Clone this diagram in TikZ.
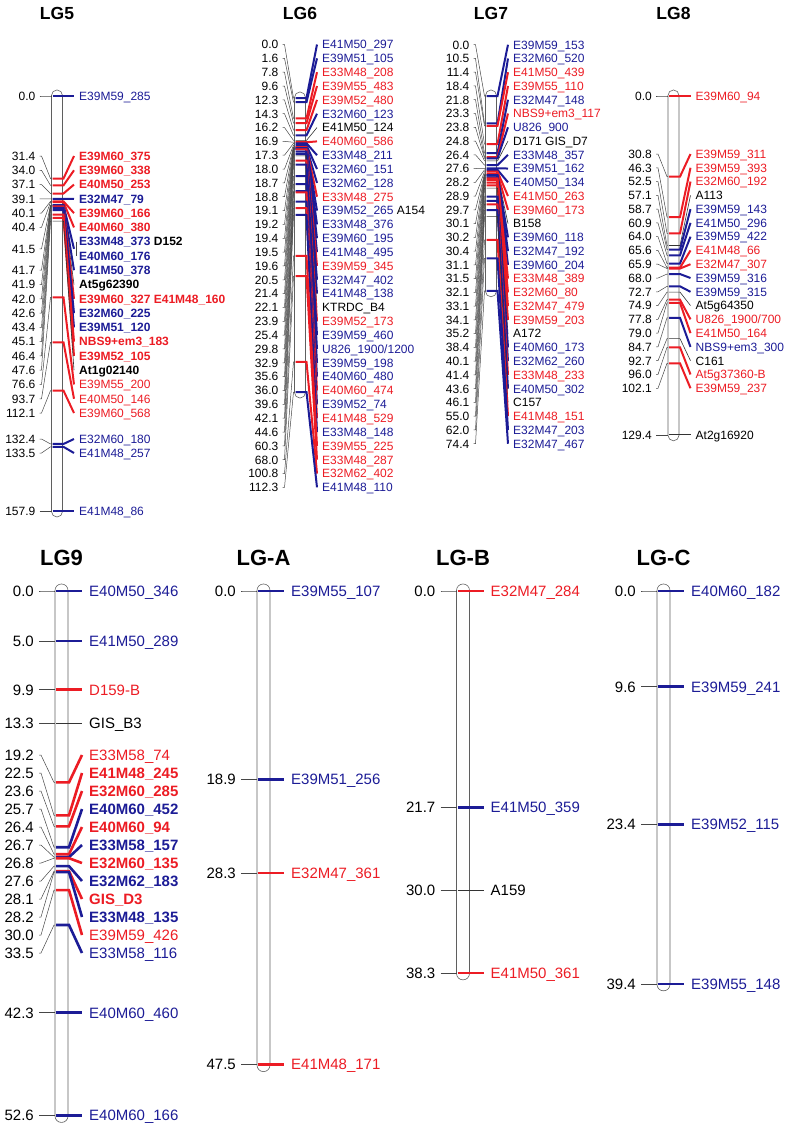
\documentclass[tikz,border=0pt]{standalone}
\usepackage{fontspec}
\setmainfont{Liberation Sans}
\definecolor{mapred}{RGB}{236,28,36}
\definecolor{mapblue}{RGB}{28,28,150}
\definecolor{bargray}{RGB}{95,95,95}
\definecolor{linegray}{RGB}{70,70,70}

\newcounter{mk}
% one marker: position, label y, number y (empty: none), colour key, label text
\newcommand{\mapmarker}[5]{%
  \stepcounter{mk}%
  \pgfmathsetmacro{\ya}{\yO+\cmsc*#1}%
  \node[lbl, txt-#4] (mk-\themk) at (\xR+\lgap, #2) {#5};%
  \draw[tick-#4] (\xL+1, \ya) -- (\xR+1, \ya) -- ([xshift=-\tgap]mk-\themk.west);%
  \ifx\relax#3\relax\else
    \node[num] (nm-\themk) at (\xL-\ngap, #3) {#1};%
    \draw[numline] ([xshift=\nsep]nm-\themk.east) -- ++(2,0) -- (\xL-1, \ya) -- (\xL, \ya);%
  \fi}

\begin{document}
\begin{tikzpicture}[x=1pt, y=-1pt,
  mapbar/.style={draw=bargray, line width=0.6pt, rounded corners=\barr},
  lbl/.style={anchor=west, inner sep=0pt, font=\lblfont, text height=\lblh, text depth=0pt},
  num/.style={anchor=east, inner sep=0pt, font=\numfont, text height=\lblh, text depth=0pt},
  numline/.style={draw=linegray, line width=0.5pt},
  brk/.style={draw=linegray, line width=0.5pt},
  ttl/.style={font=\ttlfont, inner sep=0pt},
  tick-r/.style={draw=mapred, line width=\tkw},
  tick-b/.style={draw=mapblue, line width=\tkw},
  tick-k/.style={draw=black!80, line width=0.6pt},
  txt-r/.style={text=mapred},
  txt-b/.style={text=mapblue},
  txt-k/.style={text=black}
]
\useasboundingbox (0,0) rectangle (795,1128);

% top row
\def\lblfont{\fontsize{12}{14}\selectfont}
\def\numfont{\fontsize{12}{14}\selectfont}
\def\ttlfont{\fontsize{17.5}{20}\selectfont\bfseries}
\def\lblh{8.6pt}\def\tkw{2pt}\def\lgap{16.5}\def\ngap{16}\def\tgap{5pt}\def\nsep{4pt}\def\barr{5.4pt}

% LG5
\def\xL{51.5}\def\xR{62.5}\def\yO{96}\def\cmsc{2.628}
\draw[mapbar] (\xL,\yO-6) rectangle (\xR,\yO+\cmsc*157.9+6);
\node[ttl] (lg5) at ({(\xL+\xR)/2},13) {LG5};
\foreach \ps/\cl/\tx in {0.0/b/E39M59\_285, 157.9/b/E41M48\_86}
  {\pgfmathsetmacro{\yl}{\yO+\cmsc*\ps}\mapmarker{\ps}{\yl}{\yl}{\cl}{\tx}}
\mapmarker{132.4}{439}{439}{b}{E32M60\_180}
\mapmarker{133.5}{453}{453}{b}{E41M48\_257}
\def\yF{156}\def\dy{14.28}
\begin{scope}
  \def\lblfont{\fontsize{12}{14}\selectfont\bfseries}
  \foreach \ps/\cl/\tx [count=\kk from 0] in {31.4/r/E39M60\_375, 34.0/r/E39M60\_338,
      37.1/r/E40M50\_253, 39.1/b/E32M47\_79, 40.1/r/E39M60\_166, 40.4/r/E40M60\_380}
    {\pgfmathsetmacro{\yl}{\yF+\dy*\kk}\mapmarker{\ps}{\yl}{\yl}{\cl}{\tx}}
  \pgfmathsetmacro{\yl}{\yF+\dy*6.5}
  \mapmarker{41.5}{\yl}{\yl}{b}{}
  \node[lbl, txt-b] (d152) at (\xR+\lgap, \yF+\dy*6) {E33M48\_373 \textcolor{black}{D152}};
  \node[lbl, txt-b] (e176) at (\xR+\lgap, \yF+\dy*7) {E40M60\_176};
  \draw[brk] ([xshift=-3pt]d152.west) -- ([xshift=-3pt]e176.west);
  \foreach \ps/\cl/\tx [count=\kk from 8] in {41.7/b/E41M50\_378, 41.9/k/At5g62390,
      42.0/r/{E39M60\_327 E41M48\_160}, 42.6/b/E32M60\_225, 43.4/b/E39M51\_120,
      45.1/r/NBS9+em3\_183, 46.4/r/E39M52\_105, 47.6/k/At1g02140}
    {\pgfmathsetmacro{\yl}{\yF+\dy*\kk}\mapmarker{\ps}{\yl}{\yl}{\cl}{\tx}}
\end{scope}
\foreach \ps/\cl/\tx [count=\kk from 16] in {76.6/r/E39M55\_200, 93.7/r/E40M50\_146, 112.1/r/E39M60\_568}
  {\pgfmathsetmacro{\yl}{\yF+\dy*\kk}\mapmarker{\ps}{\yl}{\yl}{\cl}{\tx}}

% LG6
\def\xL{294.5}\def\xR{305.5}\def\yO{98}\def\cmsc{2.618}
\draw[mapbar] (\xL,\yO-6) rectangle (\xR,\yO+\cmsc*112.3+6);
\node[ttl] (lg6) at ({(\xL+\xR)/2},13) {LG6};
\def\yF{44.5}\def\dy{13.84}
\foreach \ps/\cl/\tx [count=\kk from 0] in {0.0/b/E41M50\_297, 1.6/b/E39M51\_105,
    7.8/r/E33M48\_208, 9.6/r/E39M55\_483, 12.3/r/E39M52\_480, 14.3/b/E32M60\_123,
    16.2/k/E41M50\_124, 16.9/r/E40M60\_586, 17.3/b/E33M48\_211, 18.0/b/E32M60\_151,
    18.7/b/E32M62\_128, 18.8/r/E33M48\_275, 19.1/b/{E39M52\_265 \textcolor{black}{A154}},
    19.2/b/E33M48\_376, 19.4/b/E39M60\_195, 19.5/b/E41M48\_495, 19.6/r/E39M59\_345,
    20.5/b/E32M47\_402, 21.4/b/E41M48\_138, 22.1/k/KTRDC\_B4, 23.9/r/E39M52\_173,
    25.4/b/E39M59\_460, 29.8/b/{U826\_1900/1200}, 32.9/b/E39M59\_198, 35.6/b/E40M60\_480,
    36.0/r/E40M60\_474, 39.6/b/E39M52\_74, 42.1/r/E41M48\_529, 44.6/b/E33M48\_148,
    60.3/r/E39M55\_225, 68.0/r/E33M48\_287, 100.8/r/E32M62\_402, 112.3/b/E41M48\_110}
  {\pgfmathsetmacro{\yl}{\yF+\dy*\kk}\mapmarker{\ps}{\yl}{\yl}{\cl}{\tx}}

% LG7
\def\xL{485.5}\def\xR{496.5}\def\yO{96}\def\cmsc{2.618}
\draw[mapbar] (\xL,\yO-6) rectangle (\xR,\yO+\cmsc*74.4+6);
\node[ttl] (lg7) at ({(\xL+\xR)/2},13) {LG7};
\def\yF{44.7}\def\dy{13.76}
\foreach \ps/\cl/\tx [count=\kk from 0] in {0.0/b/E39M59\_153, 10.5/b/E32M60\_520,
    11.4/r/E41M50\_439, 18.4/r/E39M55\_110, 21.8/b/E32M47\_148, 23.3/r/NBS9+em3\_117,
    23.8/b/U826\_900, 24.8/k/D171 GIS\_D7, 26.4/b/E33M48\_357, 27.6/b/E39M51\_162,
    28.2/b/E40M50\_134, 28.9/r/E41M50\_263, 29.7/r/E39M60\_173, 30.1/k/B158,
    30.2/b/E39M60\_118, 30.4/b/E32M47\_192, 31.1/b/E39M60\_204, 31.5/r/E33M48\_389,
    32.1/r/E32M60\_80, 33.1/r/E32M47\_479, 34.1/r/E39M59\_203, 35.2/k/A172,
    38.4/b/E40M60\_173, 40.1/b/E32M62\_260, 41.4/r/E33M48\_233, 43.6/b/E40M50\_302,
    46.1/k/C157, 55.0/r/E41M48\_151, 62.0/b/E32M47\_203, 74.4/b/E32M47\_467}
  {\pgfmathsetmacro{\yl}{\yF+\dy*\kk}\mapmarker{\ps}{\yl}{\yl}{\cl}{\tx}}

% LG8
\def\xL{668}\def\xR{679}\def\yO{96}\def\cmsc{2.618}
\draw[mapbar] (\xL,\yO-6) rectangle (\xR,\yO+\cmsc*129.4+6);
\node[ttl] (lg8) at ({(\xL+\xR)/2},13) {LG8};
\foreach \ps/\cl/\tx in {0.0/r/E39M60\_94, 129.4/k/At2g16920}
  {\pgfmathsetmacro{\yl}{\yO+\cmsc*\ps}\mapmarker{\ps}{\yl}{\yl}{\cl}{\tx}}
\def\yF{154}\def\dy{13.78}
\foreach \ps/\cl/\tx [count=\kk from 0] in {30.8/r/E39M59\_311, 46.3/r/E39M59\_393,
    52.5/r/E32M60\_192, 57.1/k/A113, 58.7/b/E39M59\_143, 60.9/b/E41M50\_296,
    64.0/b/E39M59\_422, 65.6/r/E41M48\_66, 65.9/r/E32M47\_307, 68.0/b/E39M59\_316,
    72.7/b/E39M59\_315, 74.9/k/At5g64350, 77.8/r/{U826\_1900/700}, 79.0/r/E41M50\_164,
    84.7/b/NBS9+em3\_300, 92.7/k/C161, 96.0/r/At5g37360-B, 102.1/r/E39M59\_237}
  {\pgfmathsetmacro{\yl}{\yF+\dy*\kk}\mapmarker{\ps}{\yl}{\yl}{\cl}{\tx}}

% bottom row
\def\lblfont{\fontsize{15}{18}\selectfont}
\def\numfont{\fontsize{15}{18}\selectfont}
\def\ttlfont{\fontsize{22}{26}\selectfont\bfseries}
\def\lblh{10.7pt}\def\tkw{2.6pt}\def\lgap{21}\def\ngap{21}\def\tgap{7pt}\def\nsep{5pt}\def\barr{6.4pt}
\def\yO{591}\def\cmsc{9.97}

% LG9
\def\xL{55}\def\xR{68}
\draw[mapbar] (\xL,\yO-7) rectangle (\xR,\yO+\cmsc*52.6+7);
\node[ttl] (lg9) at ({(\xL+\xR)/2},558) {LG9};
\foreach \ps/\cl/\tx in {0.0/b/E40M50\_346, 5.0/b/E41M50\_289, 9.9/r/D159-B, 13.3/k/GIS\_B3,
    42.3/b/E40M60\_460, 52.6/b/E40M60\_166}
  {\pgfmathsetmacro{\yl}{\yO+\cmsc*\ps}\mapmarker{\ps}{\yl}{\yl}{\cl}{\tx}}
\def\yF{755}\def\dy{18}
\mapmarker{19.2}{\yF}{\yF}{r}{E33M58\_74}
\begin{scope}
  \def\lblfont{\fontsize{15}{18}\selectfont\bfseries}
  \foreach \ps/\cl/\tx [count=\kk from 1] in {22.5/r/E41M48\_245, 23.6/r/E32M60\_285,
      25.7/b/E40M60\_452, 26.4/r/E40M60\_94, 26.7/b/E33M58\_157, 26.8/r/E32M60\_135,
      27.6/b/E32M62\_183, 28.1/r/GIS\_D3, 28.2/b/E33M48\_135}
    {\pgfmathsetmacro{\yl}{\yF+\dy*\kk}\mapmarker{\ps}{\yl}{\yl}{\cl}{\tx}}
\end{scope}
\foreach \ps/\cl/\tx [count=\kk from 10] in {30.0/r/E39M59\_426, 33.5/b/E33M58\_116}
  {\pgfmathsetmacro{\yl}{\yF+\dy*\kk}\mapmarker{\ps}{\yl}{\yl}{\cl}{\tx}}

% LG-A
\def\xL{257}\def\xR{270}
\draw[mapbar] (\xL,\yO-7) rectangle (\xR,\yO+\cmsc*47.5+7);
\node[ttl] (lga) at ({(\xL+\xR)/2},558) {LG-A};
\foreach \ps/\cl/\tx in {0.0/b/E39M55\_107, 18.9/b/E39M51\_256, 28.3/r/E32M47\_361, 47.5/r/E41M48\_171}
  {\pgfmathsetmacro{\yl}{\yO+\cmsc*\ps}\mapmarker{\ps}{\yl}{\yl}{\cl}{\tx}}

% LG-B
\def\xL{456.5}\def\xR{469.5}
\draw[mapbar] (\xL,\yO-7) rectangle (\xR,\yO+\cmsc*38.3+7);
\node[ttl] (lgb) at ({(\xL+\xR)/2},558) {LG-B};
\foreach \ps/\cl/\tx in {0.0/r/E32M47\_284, 21.7/b/E41M50\_359, 30.0/k/A159, 38.3/r/E41M50\_361}
  {\pgfmathsetmacro{\yl}{\yO+\cmsc*\ps}\mapmarker{\ps}{\yl}{\yl}{\cl}{\tx}}

% LG-C
\def\xL{657}\def\xR{670}
\draw[mapbar] (\xL,\yO-7) rectangle (\xR,\yO+\cmsc*39.4+7);
\node[ttl] (lgc) at ({(\xL+\xR)/2},558) {LG-C};
\foreach \ps/\cl/\tx in {0.0/b/E40M60\_182, 9.6/b/E39M59\_241, 23.4/b/E39M52\_115, 39.4/b/E39M55\_148}
  {\pgfmathsetmacro{\yl}{\yO+\cmsc*\ps}\mapmarker{\ps}{\yl}{\yl}{\cl}{\tx}}
\end{tikzpicture}
\end{document}
